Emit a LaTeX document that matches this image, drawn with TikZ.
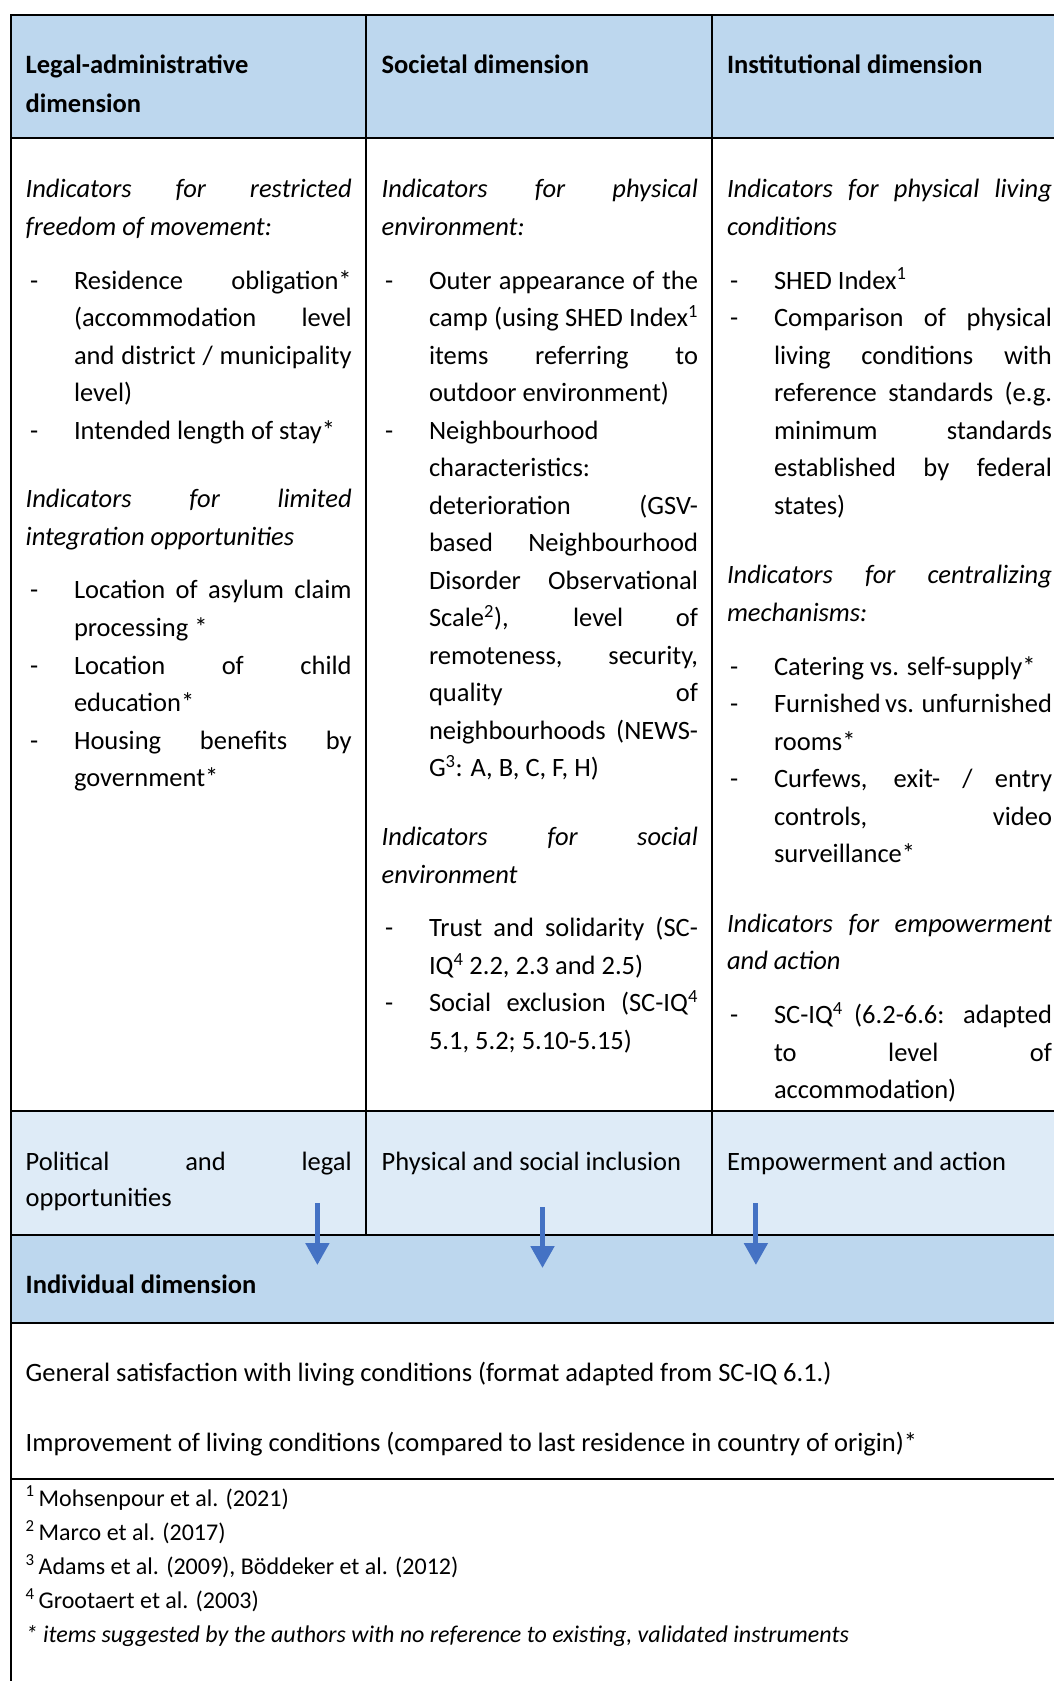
\documentclass[tikz,border=0pt]{standalone}
\usepackage{fontspec}
\setmainfont{Carlito}
\usetikzlibrary{arrows.meta}
\definecolor{hdr}{HTML}{BDD7EE}
\definecolor{lite}{HTML}{DEEBF7}
\definecolor{arr}{HTML}{4472C4}
\newcounter{tn}
\newcommand\TJ[4]{\stepcounter{tn}\node[txt] (t\arabic{tn}) at (#1,#2) {\makebox[#3pt][s]{#4}};}
\newcommand\TL[3]{\stepcounter{tn}\node[txt] (t\arabic{tn}) at (#1,#2) {#3};}
\newcommand\TD[2]{\stepcounter{tn}\node[txt] (t\arabic{tn}) at (#1,#2) {-};}
\newcommand\FN[3]{\stepcounter{tn}\node[fn] (t\arabic{tn}) at (#1,#2) {#3};}
\begin{document}
\begin{tikzpicture}[x=1pt,y=-1pt,
  txt/.style={anchor=base west,inner sep=0pt,outer sep=0pt,yshift=-1.2pt,font=\fontsize{26.5}{37.5}\selectfont},
  fn/.style={anchor=base west,inner sep=0pt,outer sep=0pt,yshift=-3pt,font=\fontsize{24}{34}\selectfont},
  rule/.style={line width=2pt,black},
  arrowsty/.style={draw=arr,line width=5pt,-{Triangle[width=23pt,length=22pt]}}]
\useasboundingbox (0,0) rectangle (1054,1681);
\fill[white] (0,0) rectangle (1054,1681);
% fills
\fill[hdr] (10.7,15) rectangle (1054,138.3);
\fill[lite] (10.7,1110.8) rectangle (1054,1235.2);
\fill[hdr] (10.7,1235.2) rectangle (1054,1323);
% rules
\draw[rule] (10.7,15) -- (1054,15);
\draw[rule] (10.7,138.3) -- (1054,138.3);
\draw[rule] (10.7,1110.8) -- (1054,1110.8);
\draw[rule] (10.7,1235.2) -- (1054,1235.2);
\draw[rule] (10.7,1323) -- (1054,1323);
\draw[rule] (10.7,1478.5) -- (1054,1478.5);
\draw[rule] (10.7,14) -- (10.7,1681);
\draw[rule] (365.6,15) -- (365.6,1235.2);
\draw[rule] (712,15) -- (712,1235.2);
% header
\TL{25.7}{72.3}{\bfseries Legal-administrative}
\TL{25.7}{110.9}{\bfseries dimension}
\TL{381.7}{72.3}{\bfseries Societal dimension}
\TL{727}{72.3}{\bfseries Institutional dimension}
% column 1
\TJ{25.7}{196.7}{326}{\itshape Indicators for restricted}
\TL{25.7}{234.2}{\itshape freedom of movement:}
\TD{30}{287.8}\TJ{74}{287.8}{277.7}{Residence obligation*}
\TJ{74}{325.4}{277.7}{(accommodation level}
\TJ{74}{362.9}{277.7}{and district / municipality}
\TL{74}{400.4}{level)}
\TD{30}{437.9}\TL{74}{437.9}{Intended length of stay*}
\TJ{25.7}{506.6}{326}{\itshape Indicators for limited}
\TL{25.7}{544.1}{\itshape integration opportunities}
\TD{30}{597.7}\TJ{74}{597.7}{277.7}{Location of asylum claim}
\TL{74}{635.2}{processing *}
\TD{30}{672.8}\TJ{74}{672.8}{277.7}{Location of child}
\TL{74}{710.3}{education*}
\TD{30}{747.8}\TJ{74}{747.8}{277.7}{Housing benefits by}
\TL{74}{785.3}{government*}
% column 2
\TJ{381.7}{196.7}{316.3}{\itshape Indicators for physical}
\TL{381.7}{234.2}{\itshape environment:}
\TD{385}{287.8}\TJ{429}{287.8}{269}{Outer appearance of the}
\TJ{429}{325.4}{269}{camp (using SHED Index\textsuperscript{1}}
\TJ{429}{362.9}{269}{items referring to}
\TL{429}{400.4}{outdoor environment)}
\TD{385}{437.9}\TL{429}{437.9}{Neighbourhood}
\TL{429}{475.5}{characteristics:}
\TJ{429}{513.0}{269}{deterioration (GSV-}
\TJ{429}{550.5}{269}{based Neighbourhood}
\TJ{429}{588.1}{269}{Disorder Observational}
\TJ{429}{625.6}{269}{Scale\textsuperscript{2}), level of}
\TJ{429}{663.1}{269}{remoteness, security,}
\TJ{429}{700.6}{269}{quality of}
\TJ{429}{738.2}{269}{neighbourhoods (NEWS-}
\TL{429}{775.7}{G\textsuperscript{3}: A, B, C, F, H)}
\TJ{381.7}{844.3}{316.3}{\itshape Indicators for social}
\TL{381.7}{881.8}{\itshape environment}
\TD{385}{935.5}\TJ{429}{935.5}{269}{Trust and solidarity (SC-}
\TL{429}{973.0}{IQ\textsuperscript{4} 2.2, 2.3 and 2.5)}
\TD{385}{1010.5}\TJ{429}{1010.5}{269}{Social exclusion (SC-IQ\textsuperscript{4}}
\TL{429}{1048.0}{5.1, 5.2; 5.10-5.15)}
% column 3
\TJ{727}{196.7}{325}{\itshape Indicators for physical living}
\TL{727}{234.2}{\itshape conditions}
\TD{730}{287.8}\TL{774}{287.8}{SHED Index\textsuperscript{1}}
\TD{730}{325.4}\TJ{774}{325.4}{278}{Comparison of physical}
\TJ{774}{362.9}{278}{living conditions with}
\TJ{774}{400.4}{278}{reference standards (e.g.}
\TJ{774}{437.9}{278}{minimum standards}
\TJ{774}{475.5}{278}{established by federal}
\TL{774}{513.0}{states)}
\TJ{727}{582.7}{325}{\itshape Indicators for centralizing}
\TL{727}{620.2}{\itshape mechanisms:}
\TD{730}{673.8}\TL{774}{673.8}{Catering vs. self-supply*}
\TD{730}{711.4}\TJ{774}{711.4}{278}{Furnished vs. unfurnished}
\TL{774}{748.9}{rooms*}
\TD{730}{786.4}\TJ{774}{786.4}{278}{Curfews, exit- / entry}
\TJ{774}{823.9}{278}{controls, video}
\TL{774}{861.5}{surveillance*}
\TJ{727}{931.2}{325}{\itshape Indicators for empowerment}
\TL{727}{968.7}{\itshape and action}
\TD{730}{1022.3}\TJ{774}{1022.3}{278}{SC-IQ\textsuperscript{4} (6.2-6.6: adapted}
\TJ{774}{1059.8}{278}{to level of}
\TL{774}{1097.4}{accommodation)}
% light row
\TJ{25.7}{1169.2}{326}{Political and legal}
\TL{25.7}{1205.6}{opportunities}
\TL{381.7}{1169.2}{Physical and social inclusion}
\TL{727}{1169.2}{Empowerment and action}
% individual
\TL{25.7}{1292.5}{\bfseries Individual dimension}
\TL{25.7}{1380.4}{General satisfaction with living conditions (format adapted from SC-IQ 6.1.)}
\TL{25.7}{1450.1}{Improvement of living conditions (compared to last residence in country of origin)*}
% footnotes
\FN{25.7}{1503}{\textsuperscript{1}\,Mohsenpour et al. (2021)}
\FN{25.7}{1537.2}{\textsuperscript{2}\,Marco et al. (2017)}
\FN{25.7}{1571.4}{\textsuperscript{3}\,Adams et al. (2009), Böddeker et al. (2012)}
\FN{25.7}{1605.6}{\textsuperscript{4}\,Grootaert et al. (2003)}
\FN{25.7}{1639.8}{\itshape * items suggested by the authors with no reference to existing, validated instruments}
% arrows
\coordinate (a1s) at (317.4,1203); \coordinate (a1e) at (317.4,1265);
\coordinate (a2s) at (542.5,1207); \coordinate (a2e) at (542.5,1268);
\coordinate (a3s) at (755.9,1203); \coordinate (a3e) at (755.9,1265);
\draw[arrowsty] (a1s) -- (a1e);
\draw[arrowsty] (a2s) -- (a2e);
\draw[arrowsty] (a3s) -- (a3e);
\end{tikzpicture}
\end{document}
